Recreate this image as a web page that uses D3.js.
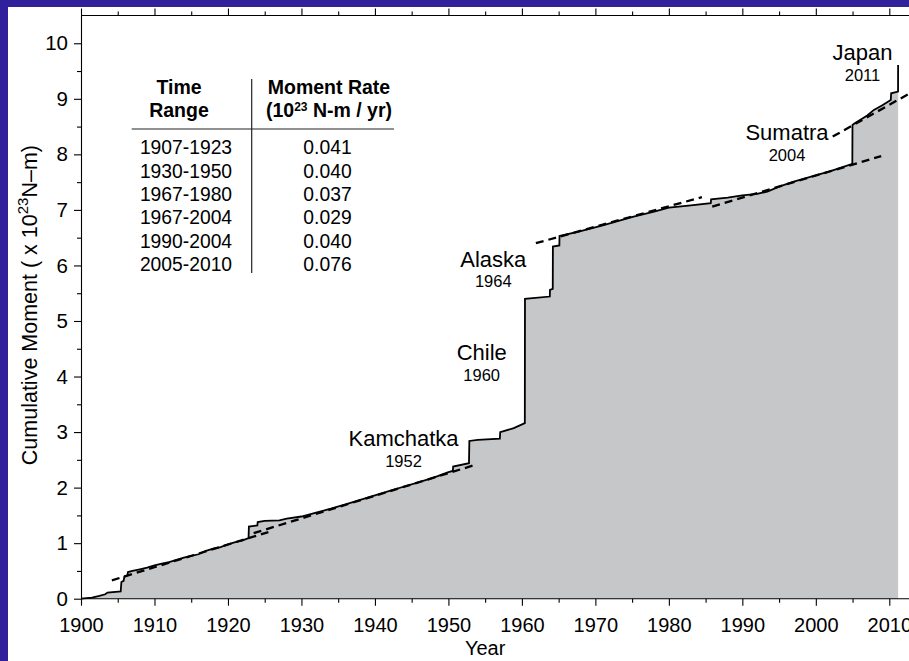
<!DOCTYPE html>
<html>
<head>
<meta charset="utf-8">
<script src="https://cdn.jsdelivr.net/npm/d3@7"></script>
<style>
  html, body { margin: 0; padding: 0; background: #fff; }
  svg { display: block; font-family: "Liberation Sans", Arial, Helvetica, sans-serif; }
</style>
</head>
<body>
<svg id="chart" width="909" height="661"></svg>
<script>
// ---- data ----
const years = [1900.0, 1901.5, 1902.5, 1903.3, 1903.6, 1905.4, 1905.5, 1905.8, 1905.9, 1906.3, 1906.4,
  1907.0, 1908.0, 1909.0, 1910.0, 1911.0, 1912.0, 1913.0, 1914.0, 1915.0, 1916.0, 1917.0, 1918.0,
  1919.0, 1920.0, 1921.0, 1922.0, 1922.8, 1922.85, 1924.0, 1924.05, 1925.0, 1927.0, 1928.0, 1930.0,
  1932.0, 1934.0, 1936.0, 1938.0, 1940.0, 1942.0, 1944.0, 1946.0, 1948.0, 1950.0, 1950.6, 1950.65,
  1952.8, 1952.85, 1954.0, 1957.0, 1957.05, 1958.9, 1960.4, 1960.42, 1963.8, 1963.82, 1964.2, 1964.22,
  1965.1, 1965.12, 1968.0, 1971.0, 1975.2, 1978.0, 1980.0, 1983.0, 1985.7, 1985.75, 1988.0, 1990.0,
  1992.0, 1993.4, 1995.0, 1997.0, 2000.2, 2002.0, 2004.97, 2004.99, 2005.3, 2007.0, 2007.9, 2009.0,
  2010.2, 2010.25, 2011.19, 2011.2];
const moment = [0.00, 0.02, 0.05, 0.08, 0.11, 0.13, 0.30, 0.32, 0.40, 0.42, 0.48,
  0.50, 0.53, 0.56, 0.60, 0.63, 0.66, 0.70, 0.74, 0.77, 0.80, 0.86, 0.90,
  0.93, 0.98, 1.02, 1.05, 1.09, 1.30, 1.32, 1.38, 1.40, 1.41, 1.44, 1.48,
  1.55, 1.62, 1.70, 1.78, 1.86, 1.94, 2.02, 2.10, 2.18, 2.28, 2.30, 2.38,
  2.44, 2.84, 2.86, 2.88, 3.00, 3.07, 3.16, 5.40, 5.44, 5.56, 5.58, 6.34,
  6.36, 6.53, 6.62, 6.72, 6.88, 6.97, 7.04, 7.08, 7.12, 7.19, 7.22, 7.26,
  7.29, 7.33, 7.42, 7.51, 7.63, 7.70, 7.83, 8.53, 8.56, 8.70, 8.80, 8.88,
  8.98, 9.10, 9.13, 9.61];

// dashed linear fits: start/end points
const fitStartYear  = [1904.2, 1923.5, 1961.9, 1985.9, 2002.3];
const fitStartValue = [0.33, 1.18, 6.40, 7.06, 8.32];
const fitEndYear    = [1925.5, 1953.9, 1984.5, 2008.9, 2012.8];
const fitEndValue   = [1.20, 2.42, 7.23, 7.97, 9.10];

// event annotations
const eventNames = ["Kamchatka", "Chile", "Alaska", "Sumatra", "Japan"];
const eventYears = ["1952", "1960", "1964", "2004", "2011"];

// inset table
const tableRanges = ["1907-1923", "1930-1950", "1967-1980", "1967-2004", "1990-2004", "2005-2010"];
const tableRates  = ["0.041", "0.040", "0.037", "0.029", "0.040", "0.076"];

// tick values
const xMajorTicks = [1900, 1910, 1920, 1930, 1940, 1950, 1960, 1970, 1980, 1990, 2000, 2010];
const xMinorTicks = [1905, 1915, 1925, 1935, 1945, 1955, 1965, 1975, 1985, 1995, 2005];
const yMajorTicks = [0, 1, 2, 3, 4, 5, 6, 7, 8, 9, 10];
const yMinorTicks = [0.5, 1.5, 2.5, 3.5, 4.5, 5.5, 6.5, 7.5, 8.5, 9.5];

// ---- drawing ----
const svg = d3.select("#chart");
const W = 909, H = 661;
const decade = (889.3 - 81) / 11;
const x = d3.scaleLinear().domain([1900, 2014]).range([81, 81 + 11.4 * decade]);
const y = d3.scaleLinear().domain([0, 10.5]).range([598.7, 15.5]);

svg.append("rect").attr("width", W).attr("height", H).attr("fill", "#fff");

const data = years.map((yr, i) => ({ yr, v: moment[i] }));

// filled area
svg.append("path")
  .datum(data)
  .attr("fill", "#c6c7c9")
  .attr("d", d3.area().x(d => x(d.yr)).y0(y(0)).y1(d => y(d.v)));

// cumulative line
svg.append("path")
  .datum(data)
  .attr("fill", "none")
  .attr("stroke", "#000")
  .attr("stroke-width", 1.8)
  .attr("stroke-linejoin", "miter")
  .attr("d", d3.line().x(d => x(d.yr)).y(d => y(d.v)));

// dashed fits
const fits = fitStartYear.map((s, i) => ({ x0: s, y0: fitStartValue[i], x1: fitEndYear[i], y1: fitEndValue[i] }));
svg.append("g").selectAll("line").data(fits).join("line")
  .attr("x1", d => x(d.x0)).attr("y1", d => y(d.y0))
  .attr("x2", d => x(d.x1)).attr("y2", d => y(d.y1))
  .attr("stroke", "#000").attr("stroke-width", 2.3)
  .attr("stroke-dasharray", "8,5");

// axes
function styleAxis(g) {
  g.selectAll("path, line").attr("stroke", "#000").attr("stroke-width", 1.1);
  g.selectAll("text").attr("fill", "#000").attr("font-family", "'Liberation Sans', Arial, sans-serif");
}
// bottom
const xb = svg.append("g").attr("transform", `translate(0,${y(0)})`)
  .call(d3.axisBottom(x).tickValues(xMajorTicks).tickSize(7).tickSizeOuter(0).tickPadding(12).tickFormat(d3.format("d")));
xb.call(styleAxis);
xb.selectAll("path.domain").attr("d", `M${x(1900)},0H${W + 10}`);
xb.selectAll("text").attr("font-size", 20);
svg.append("g").attr("transform", `translate(0,${y(0)})`)
  .call(d3.axisBottom(x).tickValues(xMinorTicks).tickSize(4).tickFormat(""))
  .call(g => g.select(".domain").remove()).call(styleAxis);
// top
const xt = svg.append("g").attr("transform", `translate(0,${y(10.5)})`)
  .call(d3.axisTop(x).tickValues(xMajorTicks).tickSize(7).tickSizeOuter(0).tickFormat(""));
xt.call(styleAxis);
xt.selectAll("path.domain").attr("d", `M${x(1900)},0H${W + 10}`);
svg.append("g").attr("transform", `translate(0,${y(10.5)})`)
  .call(d3.axisTop(x).tickValues(xMinorTicks).tickSize(4).tickFormat(""))
  .call(g => g.select(".domain").remove()).call(styleAxis);
// left
const yl = svg.append("g").attr("transform", `translate(${x(1900)},0)`)
  .call(d3.axisLeft(y).tickValues(yMajorTicks).tickSize(7).tickSizeOuter(0).tickPadding(6).tickFormat(d3.format("d")));
yl.call(styleAxis);
yl.selectAll("text").attr("font-size", 20.5);
svg.append("g").attr("transform", `translate(${x(1900)},0)`)
  .call(d3.axisLeft(y).tickValues(yMinorTicks).tickSize(4).tickFormat(""))
  .call(g => g.select(".domain").remove()).call(styleAxis);

// axis titles
svg.append("text")
  .attr("x", (x(1900) + x(2010)) / 2).attr("y", 655)
  .attr("text-anchor", "middle").attr("font-size", 20).text("Year");

const yt = svg.append("text")
  .attr("transform", `translate(37,${(y(0) + y(10.5)) / 2 - 2}) rotate(-90)`)
  .attr("text-anchor", "middle").attr("font-size", 21.5);
yt.append("tspan").text("Cumulative Moment ( x 10");
yt.append("tspan").attr("font-size", 15).attr("dy", -9).text("23");
yt.append("tspan").attr("dy", 9).text("N\u2013m)");

// event annotations
const evX = [403.5, 481.7, 493.3, 787, 862.5];
const evYName = [446, 360, 266.7, 140, 60];
eventNames.forEach((n, i) => {
  svg.append("text").attr("x", evX[i]).attr("y", evYName[i])
    .attr("text-anchor", "middle").attr("font-size", 22).text(n);
  svg.append("text").attr("x", evX[i]).attr("y", evYName[i] + 20.5)
    .attr("text-anchor", "middle").attr("font-size", 16.5).text(eventYears[i]);
});

// inset table
const tbl = svg.append("g");
tbl.append("text").attr("x", 179).attr("y", 94).attr("text-anchor", "middle")
  .attr("font-size", 19.5).attr("font-weight", "bold").text("Time");
tbl.append("text").attr("x", 179).attr("y", 116.7).attr("text-anchor", "middle")
  .attr("font-size", 19.5).attr("font-weight", "bold").text("Range");
tbl.append("text").attr("x", 329).attr("y", 94).attr("text-anchor", "middle")
  .attr("font-size", 19.5).attr("font-weight", "bold").text("Moment Rate");
const h2 = tbl.append("text").attr("x", 329).attr("y", 116.7).attr("text-anchor", "middle")
  .attr("font-size", 19.5).attr("font-weight", "bold");
h2.append("tspan").text("(10");
h2.append("tspan").attr("font-size", 12).attr("dy", -6).text("23");
h2.append("tspan").attr("dy", 6).text(" N-m / yr)");
tbl.append("line").attr("x1", 131.7).attr("x2", 394).attr("y1", 129).attr("y2", 129)
  .attr("stroke", "#222").attr("stroke-width", 1.2);
tbl.append("line").attr("x1", 251.7).attr("x2", 251.7).attr("y1", 79).attr("y2", 273)
  .attr("stroke", "#222").attr("stroke-width", 1.2);
tableRanges.forEach((r, i) => {
  const by = 154.3 + i * 23.3;
  tbl.append("text").attr("x", 186).attr("y", by).attr("text-anchor", "middle")
    .attr("font-size", 19.3).text(r);
  tbl.append("text").attr("x", 327.5).attr("y", by).attr("text-anchor", "middle")
    .attr("font-size", 19.3).text(tableRates[i]);
});

// blue frame (top and left)
svg.append("rect").attr("x", 0).attr("y", 0).attr("width", W).attr("height", 7).attr("fill", "#30209c");
svg.append("rect").attr("x", 0).attr("y", 0).attr("width", 8).attr("height", H).attr("fill", "#30209c");
</script>
</body>
</html>
